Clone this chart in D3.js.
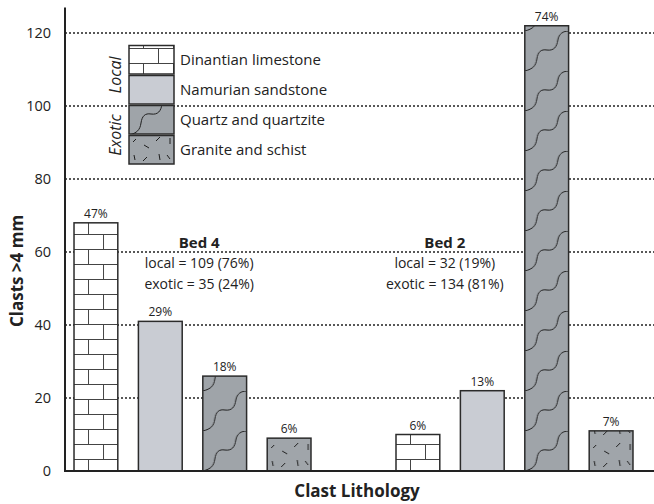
<!DOCTYPE html>
<html>
<head>
<meta charset="utf-8">
<script src="https://cdn.jsdelivr.net/npm/d3@7"></script>
<style>
  body { margin: 0; background: #fff; }
  svg { display: block; font-family: "Open Sans", sans-serif; }
</style>
</head>
<body>
<div id="chart"></div>
<script>
// data
var lithologies = ["Dinantian limestone", "Namurian sandstone", "Quartz and quartzite", "Granite and schist"];
var lithKeys = ["dinantian", "namurian", "quartz", "granite"];
var beds = ["Bed 4", "Bed 2"];
var bed4Counts = [68, 41, 26, 9];
var bed2Counts = [10, 22, 122, 11];
var bed4Pct = ["47%", "29%", "18%", "6%"];
var bed2Pct = ["6%", "13%", "74%", "7%"];
var bedLines = [["local = 109 (76%)", "exotic = 35 (24%)"],
                ["local = 32 (19%)", "exotic = 134 (81%)"]];
var yTicks = [0, 20, 40, 60, 80, 100, 120];
var groups = [["Local", 0, 1], ["Exotic", 2, 3]];

var width = 654, height = 504;
var fills = { dinantian: "#ffffff", namurian: "#c9ccd3", quartz: "#9fa4a9", granite: "#a0a5aa" };

// build the 9 slots (4 bars, a gap, 4 bars)
var bars = [];
var slots = [];
lithKeys.forEach(function(k, i) {
  slots.push("b4-" + k);
  bars.push({slot: "b4-" + k, key: k, value: bed4Counts[i], pct: bed4Pct[i]});
});
slots.push("gap");
lithKeys.forEach(function(k, i) {
  slots.push("b2-" + k);
  bars.push({slot: "b2-" + k, key: k, value: bed2Counts[i], pct: bed2Pct[i]});
});

var svg = d3.select("#chart").append("svg")
  .attr("width", width).attr("height", height);
var defs = svg.append("defs");

var x = d3.scaleBand().domain(slots).range([65, 642]).paddingInner(0.32).paddingOuter(0.14);
var y = d3.scaleLinear().domain([0, 127]).range([471, 7.5]);

// texture tiles, anchored to each box's left edge and bottom
var patId = 0;
function makePattern(key, x0, y0) {
  var id = "pat" + (patId++);
  var p;
  if (key == "dinantian") {
    p = defs.append("pattern").attr("id", id).attr("patternUnits", "userSpaceOnUse")
      .attr("x", x0).attr("y", y0).attr("width", 30).attr("height", 30);
    p.append("rect").attr("width", 30).attr("height", 30).attr("fill", "#fff");
    p.append("path").attr("fill", "none").attr("stroke", "#444").attr("stroke-width", 1)
      .attr("d", "M0,3.5H30M0,18.5H30M29.5,3.5V18.5M14.5,0V3.5M14.5,18.5V30");
  } else if (key == "quartz") {
    p = defs.append("pattern").attr("id", id).attr("patternUnits", "userSpaceOnUse")
      .attr("x", x0).attr("y", y0).attr("width", 44).attr("height", 40);
    p.append("rect").attr("width", 44).attr("height", 40).attr("fill", fills.quartz);
    p.append("path").attr("fill", "none").attr("stroke", "#1e1e1e").attr("stroke-width", 1)
      .attr("d", "M0,40C8,38 11,35 12,28C13,21 16,18 22,19C29,20 32,16 33,9C34,3 38,0 44,0");
  } else if (key == "granite") {
    p = defs.append("pattern").attr("id", id).attr("patternUnits", "userSpaceOnUse")
      .attr("x", x0).attr("y", y0).attr("width", 44).attr("height", 32);
    p.append("rect").attr("width", 44).attr("height", 32).attr("fill", fills.granite);
    var dashes = [[4, 9, 7, 6], [15, 12, 20, 15], [27, 8, 31, 4], [41, 5, 41, 11],
                  [14, 28, 18, 24], [30, 21, 31, 27], [38, 22, 41, 26], [5, 22, 6, 27]];
    p.selectAll("line").data(dashes).enter().append("line")
      .attr("x1", function(d) { return d[0]; }).attr("y1", function(d) { return d[1]; })
      .attr("x2", function(d) { return d[2]; }).attr("y2", function(d) { return d[3]; })
      .attr("stroke", "#1e1e1e").attr("stroke-width", 1);
  } else {
    return fills[key];
  }
  return "url(#" + id + ")";
}

// gridlines
svg.append("g").selectAll("line").data(yTicks.filter(function(d) { return d > 0; }))
  .enter().append("line")
  .attr("x1", 65).attr("x2", width)
  .attr("y1", function(d) { return y(d); }).attr("y2", function(d) { return y(d); })
  .attr("stroke", "#222").attr("stroke-width", 1.4).attr("stroke-dasharray", "2,2");

// bars
var barG = svg.append("g");
bars.forEach(function(d) {
  var bx = x(d.slot), by = y(d.value);
  barG.append("rect")
    .attr("x", bx).attr("y", by)
    .attr("width", x.bandwidth()).attr("height", y(0) - by)
    .attr("fill", makePattern(d.key, bx, y(0)))
    .attr("stroke", "#2b2b2b").attr("stroke-width", 1.5);
  barG.append("text")
    .attr("x", bx + x.bandwidth() / 2).attr("y", by - 5)
    .attr("text-anchor", "middle").attr("font-size", 12).attr("fill", "#222")
    .text(d.pct);
});

// bed annotations
var bedX = [x("b4-namurian") + x.bandwidth() + 17, x("b2-dinantian") + x.bandwidth() + 5];
beds.forEach(function(b, i) {
  var t = svg.append("text").attr("text-anchor", "middle").attr("fill", "#222");
  t.append("tspan").attr("x", bedX[i]).attr("y", 248)
    .attr("font-size", 15).attr("font-weight", "bold").text(b);
  bedLines[i].forEach(function(line, j) {
    t.append("tspan").attr("x", bedX[i]).attr("y", 268 + j * 21)
      .attr("font-size", 14).text(line);
  });
});

// axes
var yAxis = d3.axisLeft(y).tickValues(yTicks).tickSize(0).tickPadding(14);
var yg = svg.append("g").attr("transform", "translate(65,0)").call(yAxis);
yg.select(".domain").remove();
yg.selectAll("text").attr("font-size", 14.5).attr("fill", "#222")
  .attr("font-family", "Open Sans, sans-serif");
svg.append("line").attr("x1", 65).attr("x2", 65).attr("y1", y(127)).attr("y2", y(0) + 1)
  .attr("stroke", "#222").attr("stroke-width", 2);
svg.append("line").attr("x1", 64).attr("x2", width).attr("y1", y(0)).attr("y2", y(0))
  .attr("stroke", "#222").attr("stroke-width", 2);

svg.append("text")
  .attr("transform", "translate(23," + 271 + ") rotate(-90)")
  .attr("text-anchor", "middle").attr("font-size", 17).attr("font-weight", "bold")
  .attr("fill", "#222").text("Clasts >4 mm");
svg.append("text")
  .attr("x", 357).attr("y", 497)
  .attr("text-anchor", "middle").attr("font-size", 17).attr("font-weight", "bold")
  .attr("fill", "#222").text("Clast Lithology");

// legend
var legX = 129, legY = 45, rowH = 30, boxW = 45;
var leg = svg.append("g");
lithologies.forEach(function(name, i) {
  var ry = legY + i * rowH;
  leg.append("rect")
    .attr("x", legX).attr("y", ry + 0.5)
    .attr("width", boxW).attr("height", rowH - 1.5)
    .attr("fill", makePattern(lithKeys[i], legX, ry + rowH))
    .attr("stroke", "#2b2b2b").attr("stroke-width", 1.5);
  leg.append("text")
    .attr("x", legX + boxW + 6).attr("y", ry + rowH / 2 + 5)
    .attr("font-size", 15).attr("fill", "#222").text(name);
});
groups.forEach(function(g) {
  var cy = legY + (g[1] + g[2] + 1) * rowH / 2;
  leg.append("text")
    .attr("transform", "translate(121," + cy + ") rotate(-90)")
    .attr("text-anchor", "middle").attr("font-size", 16).attr("font-style", "italic")
    .attr("fill", "#222").text(g[0]);
});
</script>
</body>
</html>
